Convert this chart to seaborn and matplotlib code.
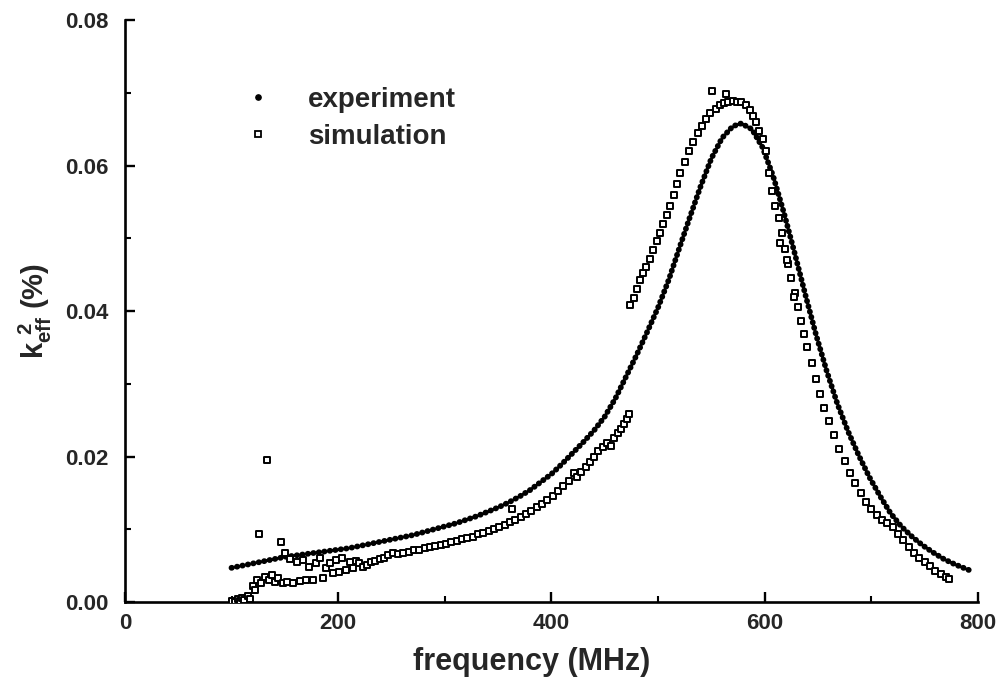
import numpy as np
import pandas as pd
import matplotlib
matplotlib.use("Agg")
import matplotlib.pyplot as plt
from matplotlib.lines import Line2D
from matplotlib.ticker import MultipleLocator, FormatStrFormatter
import seaborn as sns

# ---------------- data ----------------
exp_freq = [100, 110, 120, 130, 140, 150, 160, 170, 180, 190, 200, 210, 220, 230, 240,
            250, 260, 270, 280, 290, 300, 310, 320, 330, 340, 350, 360, 370, 380, 390,
            400, 410, 420, 430, 440, 450, 460, 470, 480, 490, 500, 510, 520, 530, 540,
            550, 560, 570, 578, 588, 598, 608, 618, 628, 638, 648, 658, 668, 678, 688,
            698, 708, 718, 728, 738, 748, 758, 768, 778, 788, 795]
exp_k = [0.0047, 0.0050, 0.0053, 0.0056, 0.0059, 0.0062, 0.0064, 0.0066, 0.0068, 0.0070,
         0.0072, 0.0074, 0.0077, 0.0080, 0.0083, 0.0086, 0.0089, 0.0092, 0.0096, 0.0100,
         0.0104, 0.0108, 0.0113, 0.0118, 0.0124, 0.0130, 0.0137, 0.0145, 0.0154, 0.0165,
         0.0176, 0.0190, 0.0205, 0.0220, 0.0236, 0.0255, 0.0280, 0.0310, 0.0340, 0.0372,
         0.0405, 0.0443, 0.0487, 0.0530, 0.0572, 0.0610, 0.0638, 0.0654, 0.0658, 0.0650,
         0.0625, 0.0585, 0.0535, 0.0480, 0.0423, 0.0368, 0.0318, 0.0273, 0.0235, 0.0202,
         0.0172, 0.0146, 0.0122, 0.0104, 0.0090, 0.0078, 0.0068, 0.0059, 0.0052, 0.0046,
         0.0042]

sim_freq = [100, 103, 106, 108, 110, 112, 115, 117, 120, 122, 124, 126, 128, 131, 133,
            135, 138, 141, 144, 146, 148, 150, 152, 155, 158, 161, 164, 167, 170, 173,
            176, 179, 183, 186, 189, 192, 195, 198, 201, 204, 207, 211, 214, 217, 220,
            223, 227, 231, 235, 239, 243, 247, 251, 256, 261, 266, 271, 276, 281, 286,
            291, 296, 301, 306, 311, 316, 321, 326, 331, 336, 341, 346, 351, 356, 361,
            363, 366, 371, 376, 381, 386, 391, 396, 401, 406, 411, 416, 421, 424, 428,
            432, 436, 440, 444, 448, 452, 456, 459, 462, 465, 468, 471, 473,
            474, 477, 480, 483, 486, 489, 492, 495, 499, 502, 505, 508, 511, 515, 518,
            521, 525, 529, 533, 537, 541, 545, 549, 551, 554, 558, 562, 564, 566, 570,
            574, 578, 582, 586, 589, 592, 595, 598, 601, 604, 607, 610, 613, 616, 619,
            622, 625, 628, 631, 634, 637, 640, 644, 648, 652, 656, 660, 665, 670, 675,
            680, 685, 690, 695, 700, 705, 710, 715, 720, 725, 730, 735, 740, 745, 750,
            755, 760, 765, 770, 773, 614, 621, 627]
sim_k = [0.0002, 0.0000, 0.0004, 0.0001, 0.0006, 0.0003, 0.0008, 0.0004, 0.0022, 0.0016,
         0.0030, 0.0093, 0.0026, 0.0034, 0.0195, 0.0030, 0.0037, 0.0028, 0.0033, 0.0082,
         0.0026, 0.0067, 0.0028, 0.0059, 0.0026, 0.0055, 0.0029, 0.0058, 0.0030, 0.0048,
         0.0030, 0.0053, 0.0060, 0.0033, 0.0047, 0.0053, 0.0040, 0.0058, 0.0041, 0.0060,
         0.0044, 0.0055, 0.0047, 0.0057, 0.0053, 0.0048, 0.0051, 0.0055, 0.0057, 0.0059,
         0.0061, 0.0064, 0.0067, 0.0066, 0.0068, 0.0069, 0.0071, 0.0072, 0.0074, 0.0076,
         0.0077, 0.0079, 0.0080, 0.0082, 0.0084, 0.0086, 0.0088, 0.0090, 0.0093, 0.0095,
         0.0098, 0.0100, 0.0103, 0.0106, 0.0110, 0.0128, 0.0113, 0.0117, 0.0121, 0.0125,
         0.0130, 0.0135, 0.0140, 0.0146, 0.0152, 0.0159, 0.0166, 0.0178, 0.0172, 0.0179,
         0.0186, 0.0193, 0.0200, 0.0207, 0.0213, 0.0219, 0.0214, 0.0226, 0.0232, 0.0238,
         0.0245, 0.0252, 0.0258,
         0.0408, 0.0418, 0.0430, 0.0443, 0.0452, 0.0461, 0.0472, 0.0484, 0.0497, 0.0508,
         0.0520, 0.0532, 0.0545, 0.0560, 0.0575, 0.0590, 0.0605, 0.0620, 0.0633, 0.0645,
         0.0655, 0.0664, 0.0672, 0.0702, 0.0678, 0.0683, 0.0686, 0.0698, 0.0688, 0.0689,
         0.0688, 0.0687, 0.0683, 0.0677, 0.0668, 0.0660, 0.0648, 0.0636, 0.0620, 0.0590,
         0.0565, 0.0545, 0.0528, 0.0508, 0.0486, 0.0465, 0.0445, 0.0425, 0.0405, 0.0386,
         0.0368, 0.0350, 0.0328, 0.0306, 0.0286, 0.0267, 0.0249, 0.0230, 0.0211, 0.0194,
         0.0178, 0.0163, 0.0150, 0.0138, 0.0128, 0.0120, 0.0113, 0.0108, 0.0103, 0.0094,
         0.0085, 0.0076, 0.0068, 0.0060, 0.0055, 0.0049, 0.0043, 0.0039, 0.0035, 0.0031,
         0.0493, 0.0470, 0.0419]

legend_labels = ["experiment", "simulation"]
x_label = "frequency (MHz)"
y_label = r"$k_{eff}^{\ 2}$ (%)"

# ---------------- style ----------------
sns.set_theme(style="white")
plt.rcParams["font.family"] = ["Liberation Sans", "DejaVu Sans"]
plt.rcParams["font.weight"] = "bold"
plt.rcParams["mathtext.fontset"] = "custom"
plt.rcParams["mathtext.rm"] = "Liberation Sans:bold"
plt.rcParams["mathtext.it"] = "Liberation Sans:bold"
plt.rcParams["mathtext.bf"] = "Liberation Sans:bold"

fig = plt.figure(figsize=(9.99, 6.87), dpi=100)
ax = fig.add_axes([0.125, 0.1237, 0.854, 0.847])

df_exp = pd.DataFrame({"f": exp_freq, "k": exp_k})
df_sim = pd.DataFrame({"f": sim_freq, "k": sim_k})

sns.lineplot(data=df_exp, x="f", y="k", ax=ax, color="black", linewidth=4.2,
             linestyle=(0, (0.05, 0.9)), dash_capstyle="round", legend=False,
             sort=False, estimator=None)
sns.scatterplot(data=df_sim, x="f", y="k", ax=ax, marker="s", s=18,
                facecolor="white", edgecolor="black", linewidth=1.4, legend=False,
                zorder=3)

ax.set_xlim(0, 800)
ax.set_ylim(0, 0.08)
ax.xaxis.set_major_locator(MultipleLocator(200))
ax.xaxis.set_minor_locator(MultipleLocator(100))
ax.yaxis.set_major_locator(MultipleLocator(0.02))
ax.yaxis.set_minor_locator(MultipleLocator(0.01))
ax.yaxis.set_major_formatter(FormatStrFormatter("%.2f"))

for s in ["top", "right"]:
    ax.spines[s].set_visible(False)
for s in ["left", "bottom"]:
    ax.spines[s].set_linewidth(1.9)
    ax.spines[s].set_color("black")

ax.tick_params(which="major", direction="in", length=7, width=1.7, color="black",
               labelsize=16, bottom=True, left=True)
ax.tick_params(which="minor", direction="in", length=4.5, width=1.5, color="black",
               bottom=True, left=True)
ax.tick_params(axis="x", pad=8)
ax.tick_params(axis="y", pad=12)
for lab in ax.get_xticklabels() + ax.get_yticklabels():
    lab.set_fontweight("bold")

ax.set_xlabel(x_label, fontsize=22, fontweight="bold")
ax.xaxis.set_label_coords(0.477, -0.078)
ax.set_ylabel(y_label, fontsize=21, fontweight="bold", labelpad=8)

handles = [
    Line2D([], [], linestyle="none", marker="o", markersize=3.8, color="black"),
    Line2D([], [], linestyle="none", marker="s", markersize=3.8,
           markerfacecolor="white", markeredgecolor="black", markeredgewidth=1.3),
]
leg = ax.legend(handles, legend_labels, loc="upper left", bbox_to_anchor=(0.135, 0.905),
                frameon=False, fontsize=20, handlelength=0.5, handletextpad=1.55,
                labelspacing=0.40, borderaxespad=0)
for t in leg.get_texts():
    t.set_fontweight("bold")

fig.savefig("out.png", dpi=100)
